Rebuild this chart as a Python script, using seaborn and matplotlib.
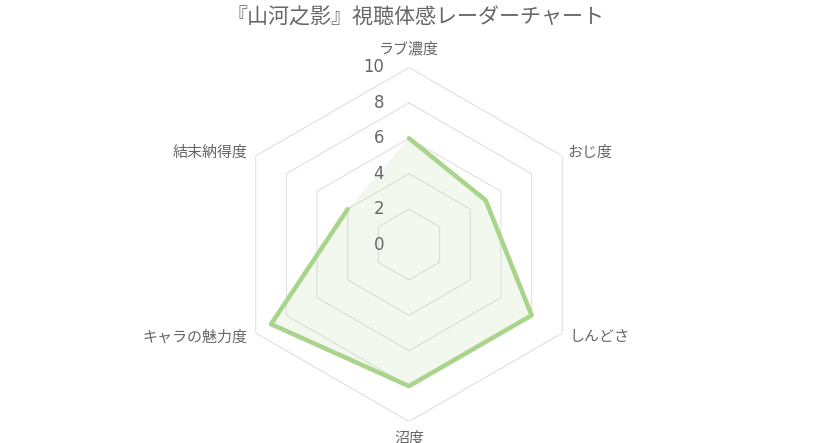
import numpy as np
import pandas as pd
import matplotlib
matplotlib.use("Agg")
import matplotlib.pyplot as plt
import seaborn as sns

title = "『山河之影』視聴体感レーダーチャート"
categories = ["ラブ濃度", "おじ度", "しんどさ", "沼度", "キャラの魅力度", "結末納得度"]
scores = [6, 5, 8, 8, 9, 4]
tick_values = [0, 2, 4, 6, 8, 10]

sns.set_theme(style="white")
plt.rcParams['font.family'] = ['Noto Sans CJK JP', 'DejaVu Sans']

text_color = "#666666"
line_color = "#a8d48c"
grid_color = "#dddddd"

# dpi 72 so that 1pt == 1px
fig = plt.figure(figsize=(816 / 72, 443 / 72), dpi=72)
cx, cy, rad = 409, 443 - 244.5, 177
ax = fig.add_axes([(cx - rad) / 816, (cy - rad) / 443, 2 * rad / 816, 2 * rad / 443],
                  projection="polar")
ax.set_theta_offset(np.pi / 2)
ax.set_theta_direction(-1)
ax.grid(False)
ax.spines['polar'].set_visible(False)
ax.patch.set_alpha(0)

n = len(categories)
angles = np.arange(n) * 2 * np.pi / n
ring = np.append(angles, angles[0])

# hexagon grid
for r in tick_values[1:]:
    ax.plot(ring, [r] * len(ring), color=grid_color, lw=1, zorder=1)

df = pd.DataFrame({"angle": ring, "score": scores + scores[:1]})
ax.fill(df["angle"], df["score"], color=line_color, alpha=0.15, lw=0, zorder=2)
sns.lineplot(data=df, x="angle", y="score", sort=False, ax=ax,
             color=line_color, lw=4.5, zorder=3)
ax.set_xlabel("")
ax.set_ylabel("")
ax.set_xticks([])
ax.set_yticks([])
ax.set_ylim(0, 10)

# radial tick labels
for v in tick_values:
    ax.annotate(str(v), xy=(0, v), xytext=(-25, 0), textcoords="offset points",
                ha="right", va="center", fontsize=16.5, color=text_color,
                family="DejaVu Sans", zorder=4)

# category labels
offsets = [(0, 18, "center", "center"), (5, 3, "left", "center"),
           (7, -4, "left", "center"), (0, -10, "center", "top"),
           (-8, -4, "right", "center"), (-8, 3, "right", "center")]
for a, lab, (dx, dy, ha, va) in zip(angles, categories, offsets):
    ax.annotate(lab, xy=(a, 10), xytext=(dx, dy), textcoords="offset points",
                ha=ha, va=va, fontsize=15, color=text_color, annotation_clip=False)

fig.text(415 / 816, 1 - 18 / 443, title, ha="center", va="center",
         fontsize=21, color=text_color)

fig.savefig("out.png", dpi=72)
